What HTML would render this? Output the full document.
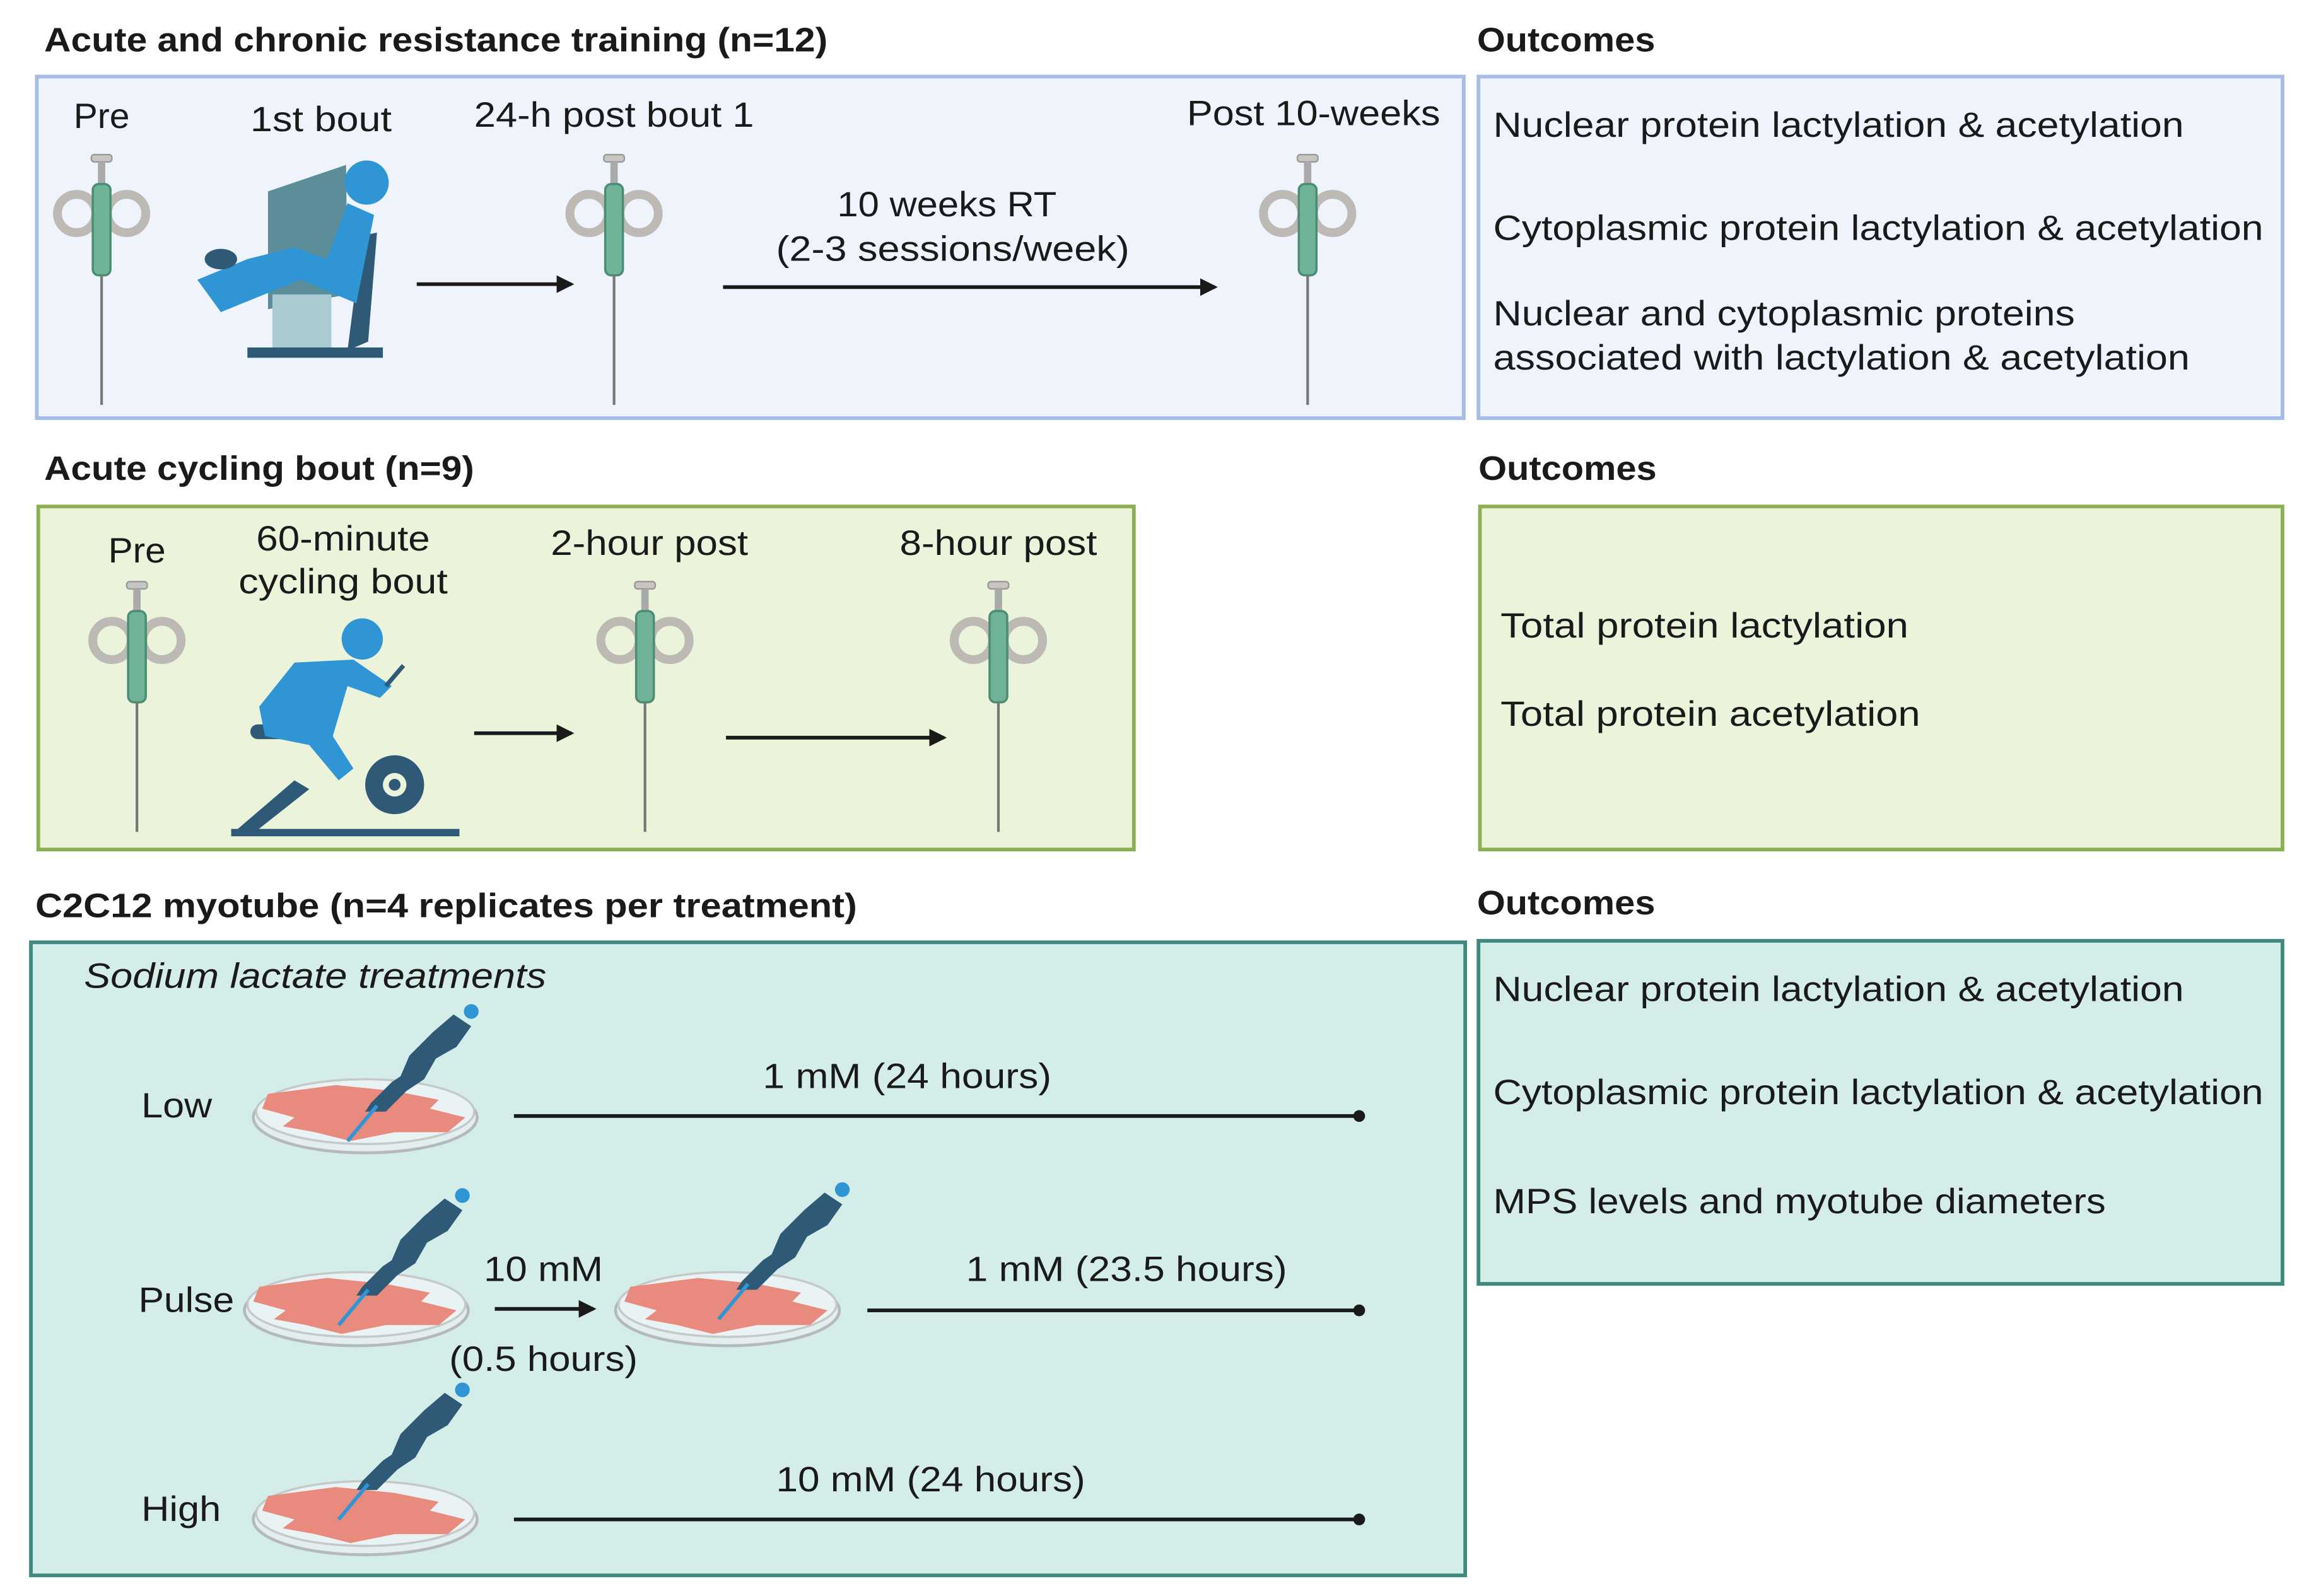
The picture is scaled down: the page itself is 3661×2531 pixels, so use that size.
<!DOCTYPE html>
<html><head><meta charset="utf-8"><style>
html,body{margin:0;padding:0;background:#fff}
svg{display:block}
text{font-family:"Liberation Sans",Arial,sans-serif;font-size:24px;fill:#1a1a1a}
.b{font-weight:bold;font-size:23px}
.c{text-anchor:middle}
</style></head><body>
<svg width="3661" height="2531" viewBox="0 0 1568 1084" preserveAspectRatio="none" xmlns="http://www.w3.org/2000/svg">
<defs>
<marker id="ah" markerWidth="12" markerHeight="12" refX="10" refY="6" orient="auto" markerUnits="userSpaceOnUse"><path d="M0,0 L12,6 L0,12 z" fill="#1a1a1a"/></marker>
<g id="syr">
<rect x="-7" y="0" width="14" height="5" rx="2" fill="#c9c6c0" stroke="#999" stroke-width="1"/>
<rect x="-2.5" y="5" width="5" height="18" fill="#aaa"/>
<ellipse cx="-17" cy="40" rx="13" ry="13" fill="none" stroke="#bdbab5" stroke-width="6"/>
<ellipse cx="17" cy="40" rx="13" ry="13" fill="none" stroke="#bdbab5" stroke-width="6"/>
<rect x="-6" y="20" width="12" height="62" rx="4" fill="#6fb398" stroke="#4b8c73" stroke-width="1.5"/>
<line x1="0" y1="82" x2="0" y2="170" stroke="#777" stroke-width="1.8"/>
</g>
<g id="dish">
<ellipse cx="0" cy="4" rx="76" ry="24" fill="#e3eeee" stroke="#b5b9b9" stroke-width="2"/>
<ellipse cx="0" cy="0" rx="74" ry="22" fill="#eaf3f3" stroke="#c5c9c9" stroke-width="1.5"/>
<path d="M-66,-12 L-20,-18 L20,-14 L50,-8 L44,-2 L68,4 L56,14 L20,14 L-10,20 L-34,14 L-56,10 L-48,4 L-70,-2 Z" fill="#e88b7e"/>
</g>
<g id="pip">
<path d="M0,0 L4,-6 L18,-20 L24,-24 L30,-38 L46,-54 L60,-66 L66,-62 L72,-58 L62,-44 L48,-36 L40,-22 L28,-14 L14,0 Z" fill="#2e5a78"/>
<line x1="8" y1="-4" x2="-12" y2="20" stroke="#2f95d5" stroke-width="2.5"/>
<circle cx="72" cy="-68" r="5" fill="#2f95d5"/>
</g>
</defs>

<text class="b" x="30" y="35" textLength="532" lengthAdjust="spacingAndGlyphs">Acute and chronic resistance training (n=12)</text>
<text class="b" x="1003" y="35" textLength="121" lengthAdjust="spacingAndGlyphs">Outcomes</text>
<text class="b" x="30" y="326" textLength="292" lengthAdjust="spacingAndGlyphs">Acute cycling bout (n=9)</text>
<text class="b" x="1004" y="326" textLength="121" lengthAdjust="spacingAndGlyphs">Outcomes</text>
<text class="b" x="24" y="623" textLength="558" lengthAdjust="spacingAndGlyphs">C2C12 myotube (n=4 replicates per treatment)</text>
<text class="b" x="1003" y="621" textLength="121" lengthAdjust="spacingAndGlyphs">Outcomes</text>

<!-- box 1 -->
<rect x="25" y="52" width="969" height="232" fill="#eef3fc" stroke="#a7bce4" stroke-width="2.5"/>
<rect x="1004" y="52" width="546" height="232" fill="#eef3fc" stroke="#a7bce4" stroke-width="2.5"/>
<text class="c" x="69" y="87" textLength="38" lengthAdjust="spacingAndGlyphs">Pre</text>
<text class="c" x="218" y="89" textLength="96" lengthAdjust="spacingAndGlyphs">1st bout</text>
<text class="c" x="417" y="86" textLength="190" lengthAdjust="spacingAndGlyphs">24-h post bout 1</text>
<text class="c" x="892" y="85" textLength="172" lengthAdjust="spacingAndGlyphs">Post 10-weeks</text>
<text class="c" x="643" y="147" textLength="149" lengthAdjust="spacingAndGlyphs">10 weeks RT</text>
<text class="c" x="647" y="177" textLength="240" lengthAdjust="spacingAndGlyphs">(2-3 sessions/week)</text>
<use href="#syr" x="69" y="105"/>
<use href="#syr" x="417" y="105"/>
<use href="#syr" x="888" y="105"/>
<line x1="283" y1="193" x2="388" y2="193" stroke="#1a1a1a" stroke-width="2.5" marker-end="url(#ah)"/>
<line x1="491" y1="195" x2="825" y2="195" stroke="#1a1a1a" stroke-width="2.5" marker-end="url(#ah)"/>
<g>
<path d="M182,130 L235,112 L236,200 L182,210 Z" fill="#5b8e98"/>
<rect x="185" y="200" width="40" height="38" fill="#a9cbd2"/>
<rect x="168" y="236" width="92" height="7" fill="#2e5a78"/>
<path d="M246,160 L256,158 L250,232 L236,238 Z" fill="#2e5a78"/>
<circle cx="249" cy="124" r="15" fill="#2f95d5"/>
<path d="M236,138 L254,146 L242,206 L204,190 L150,212 L134,190 L168,176 L200,168 L222,176 Z" fill="#2f95d5"/>
<ellipse cx="150" cy="176" rx="11" ry="7" fill="#2e5a78"/>
</g>
<text x="1014" y="93" textLength="469" lengthAdjust="spacingAndGlyphs">Nuclear protein lactylation &amp; acetylation</text>
<text x="1014" y="163" textLength="523" lengthAdjust="spacingAndGlyphs">Cytoplasmic protein lactylation &amp; acetylation</text>
<text x="1014" y="221" textLength="395" lengthAdjust="spacingAndGlyphs">Nuclear and cytoplasmic proteins</text>
<text x="1014" y="251" textLength="473" lengthAdjust="spacingAndGlyphs">associated with lactylation &amp; acetylation</text>

<!-- box 2 -->
<rect x="26" y="344" width="744" height="233" fill="#ebf3da" stroke="#8caf56" stroke-width="2.5"/>
<rect x="1005" y="344" width="545" height="233" fill="#ebf3da" stroke="#8caf56" stroke-width="2.5"/>
<text class="c" x="93" y="382" textLength="39" lengthAdjust="spacingAndGlyphs">Pre</text>
<text class="c" x="233" y="374" textLength="118" lengthAdjust="spacingAndGlyphs">60-minute</text>
<text class="c" x="233" y="403" textLength="142" lengthAdjust="spacingAndGlyphs">cycling bout</text>
<text class="c" x="441" y="377" textLength="134" lengthAdjust="spacingAndGlyphs">2-hour post</text>
<text class="c" x="678" y="377" textLength="134" lengthAdjust="spacingAndGlyphs">8-hour post</text>
<use href="#syr" x="93" y="395"/>
<use href="#syr" x="438" y="395"/>
<use href="#syr" x="678" y="395"/>
<line x1="322" y1="498" x2="388" y2="498" stroke="#1a1a1a" stroke-width="2.5" marker-end="url(#ah)"/>
<line x1="493" y1="501" x2="641" y2="501" stroke="#1a1a1a" stroke-width="2.5" marker-end="url(#ah)"/>
<g>
<circle cx="268" cy="533" r="20" fill="#2e5a78"/><circle cx="268" cy="533" r="8" fill="#ebf3da"/><circle cx="268" cy="533" r="4" fill="#2e5a78"/>
<path d="M158,566 L200,530 L210,536 L172,566 Z" fill="#2e5a78"/>
<rect x="157" y="563" width="155" height="5" fill="#2e5a78"/>
<rect x="170" y="492" width="34" height="10" rx="5" fill="#2e5a78"/>
<circle cx="246" cy="434" r="14" fill="#2f95d5"/>
<path d="M200,450 L240,448 L266,466 L258,474 L236,466 L226,500 L240,522 L230,530 L210,506 L180,500 L176,480 Z" fill="#2f95d5"/>
<line x1="262" y1="466" x2="274" y2="452" stroke="#2e5a78" stroke-width="3"/>
</g>
<text x="1019" y="433" textLength="277" lengthAdjust="spacingAndGlyphs">Total protein lactylation</text>
<text x="1019" y="493" textLength="285" lengthAdjust="spacingAndGlyphs">Total protein acetylation</text>

<!-- box 3 -->
<rect x="21" y="640" width="974" height="430" fill="#d4ede8" stroke="#3e8a7e" stroke-width="2.5"/>
<rect x="1004" y="639" width="546" height="233" fill="#d4ede8" stroke="#3e8a7e" stroke-width="2.5"/>
<text x="57" y="671" font-style="italic" textLength="314" lengthAdjust="spacingAndGlyphs">Sodium lactate treatments</text>
<text x="96" y="759" textLength="48" lengthAdjust="spacingAndGlyphs">Low</text>
<text x="94" y="891" textLength="65" lengthAdjust="spacingAndGlyphs">Pulse</text>
<text x="96" y="1033" textLength="54" lengthAdjust="spacingAndGlyphs">High</text>
<use href="#dish" x="248" y="755"/>
<use href="#dish" x="242" y="886"/>
<use href="#dish" x="494" y="886"/>
<use href="#dish" x="248" y="1028"/>
<use href="#pip" x="248" y="755"/>
<use href="#pip" x="242" y="880"/>
<use href="#pip" x="500" y="876"/>
<use href="#pip" x="242" y="1012"/>
<text class="c" x="616" y="739" textLength="196" lengthAdjust="spacingAndGlyphs">1 mM (24 hours)</text>
<line x1="349" y1="758" x2="923" y2="758" stroke="#1a1a1a" stroke-width="2.5"/>
<circle cx="923" cy="758" r="4" fill="#1a1a1a"/>
<text class="c" x="369" y="870" textLength="81" lengthAdjust="spacingAndGlyphs">10 mM</text>
<line x1="336" y1="889" x2="403" y2="889" stroke="#1a1a1a" stroke-width="2.5" marker-end="url(#ah)"/>
<text class="c" x="369" y="931" textLength="128" lengthAdjust="spacingAndGlyphs">(0.5 hours)</text>
<text class="c" x="765" y="870" textLength="218" lengthAdjust="spacingAndGlyphs">1 mM (23.5 hours)</text>
<line x1="589" y1="890" x2="923" y2="890" stroke="#1a1a1a" stroke-width="2.5"/>
<circle cx="923" cy="890" r="4" fill="#1a1a1a"/>
<text class="c" x="632" y="1013" textLength="210" lengthAdjust="spacingAndGlyphs">10 mM (24 hours)</text>
<line x1="349" y1="1032" x2="923" y2="1032" stroke="#1a1a1a" stroke-width="2.5"/>
<circle cx="923" cy="1032" r="4" fill="#1a1a1a"/>
<text x="1014" y="680" textLength="469" lengthAdjust="spacingAndGlyphs">Nuclear protein lactylation &amp; acetylation</text>
<text x="1014" y="750" textLength="523" lengthAdjust="spacingAndGlyphs">Cytoplasmic protein lactylation &amp; acetylation</text>
<text x="1014" y="824" textLength="416" lengthAdjust="spacingAndGlyphs">MPS levels and myotube diameters</text>
</svg>
</body></html>
